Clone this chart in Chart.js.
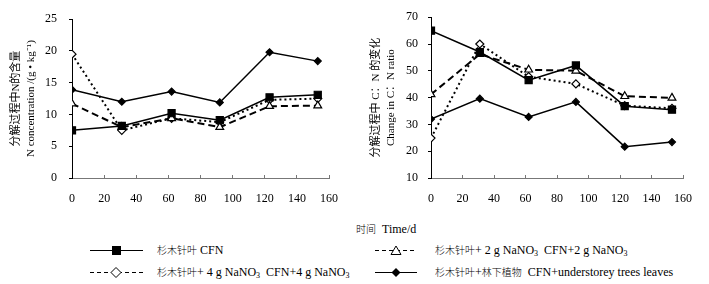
<!DOCTYPE html>
<html>
<head>
<meta charset="utf-8">
<script src="https://cdn.jsdelivr.net/npm/chart.js@4"></script>
<style>
  body { margin: 0; background: #fff; width: 709px; height: 284px; position: relative; overflow: hidden;
         font-family: 'Liberation Serif', 'Noto Sans CJK SC', serif; color: #000; }
  canvas { position: absolute; top: 0; }
  #c1 { left: 0; }
  #c2 { left: 355px; }
  .xlabel { position: absolute; left: 356px; top: 221px; font-size: 12px; white-space: pre; }
  .leg { position: absolute; display: flex; align-items: center; font-size: 12px; white-space: pre; height: 14px; }
  .leg svg { margin-right: 14px; }
  .cjk { font-family: 'Noto Sans CJK SC', sans-serif; font-size: 10px; font-weight: 300; }
  sub { font-size: 8px; vertical-align: -2px; line-height: 0; }
</style>
</head>
<body>
<canvas id="c1" width="355" height="215"></canvas>
<canvas id="c2" width="354" height="215"></canvas>
<div class="xlabel"><span class="cjk">时间</span>  Time/d</div>
<div id="legend"></div>

<script>
// ═══════════════════════════════════════
//  DONNÉES
// ═══════════════════════════════════════

const days = [0, 31, 62, 92, 123, 153];

// N concentration (g/kg)
const nCFN   = [7.5, 8.2, 10.2, 9.1, 12.7, 13.1];
const nNa2   = [11.7, 8.0, 9.4, 8.0, 11.3, 11.4];
const nNa4   = [19.5, 7.5, 9.4, 8.8, 12.3, 12.5];
const nUnder = [13.9, 12.0, 13.6, 11.9, 19.8, 18.4];

// C:N ratio
const cnCFN   = [65.0, 57.0, 46.5, 52.0, 36.8, 35.5];
const cnNa2   = [41.2, 56.2, 50.4, 50.0, 40.5, 39.9];
const cnNa4   = [24.9, 60.0, 47.8, 45.1, 37.0, 36.0];
const cnUnder = [32.0, 39.6, 32.8, 38.4, 21.7, 23.4];

const xTicks = [0, 20, 40, 60, 80, 100, 120, 140, 160];

const seriesLabels = [
  '杉木针叶 CFN',
  '杉木针叶+ 2 g NaNO3  CFN+2 g NaNO3',
  '杉木针叶+ 4 g NaNO3  CFN+4 g NaNO3',
  '杉木针叶+林下植物  CFN+understorey trees leaves'
];

Chart.defaults.font.family = "'Liberation Serif', 'Noto Sans CJK SC', serif";
Chart.defaults.font.size = 12;
Chart.defaults.color = '#000';

// ═══════════════════════════════════════
//  STYLES DES SÉRIES
// ═══════════════════════════════════════

const styles = [
  { borderWidth: 1.5, borderDash: [], pointStyle: 'rect', pointRadius: 5, pointBackgroundColor: '#000' },
  { borderWidth: 2, borderDash: [7, 4], pointStyle: 'triangle', pointRadius: 4.5, pointBackgroundColor: '#fff' },
  { borderWidth: 2, borderDash: [2, 3], pointStyle: 'rectRot', pointRadius: 4, pointBackgroundColor: '#fff' },
  { borderWidth: 1.5, borderDash: [], pointStyle: 'rectRot', pointRadius: 3.5, pointBackgroundColor: '#000' }
];

function buildDatasets(list) {
  return list.map((vals, i) => ({
    label: seriesLabels[i],
    data: days.map((d, k) => ({ x: d, y: vals[k] })),
    borderColor: '#000',
    pointBorderColor: '#000',
    pointBorderWidth: 1.2,
    tension: 0,
    ...styles[i]
  }));
}

// ═══════════════════════════════════════
//  GRAPHE
// ═══════════════════════════════════════

function makeChart(id, datasets, yMin, yMax, yStep, yTitle, opts) {
  const ctx = document.getElementById(id).getContext('2d');
  return new Chart(ctx, {
    type: 'line',
    data: { datasets },
    options: {
      responsive: false,
      animation: false,
      layout: { padding: { top: 16, right: opts.padRight, left: 0, bottom: 0 } },
      plugins: { legend: { display: false }, tooltip: { enabled: false } },
      scales: {
        x: {
          type: 'linear',
          min: 0, max: 160,
          afterBuildTicks: s => { s.ticks = xTicks.map(v => ({ value: v })); },
          afterFit: s => { s.height = 37; },
          ticks: { padding: 17, maxRotation: 0 },
          grid: { drawOnChartArea: false, tickLength: -3, color: '#777' },
          border: { color: '#777', width: 1 }
        },
        y: {
          min: yMin, max: yMax,
          afterFit: s => { s.width = opts.yWidth; },
          ticks: { stepSize: yStep, padding: opts.tickPad },
          grid: { drawOnChartArea: false, tickLength: 3, color: '#000' },
          border: { color: '#000', width: 1 },
          title: {
            display: true,
            text: yTitle,
            font: { size: 11, lineHeight: 15 / 11 },
            padding: { top: opts.titlePad, bottom: 0 }
          }
        }
      }
    }
  });
}

makeChart('c1', buildDatasets([nCFN, nNa2, nNa4, nUnder]), 0, 25, 5,
  ['分解过程中N的含量', 'N concentration /(g • kg⁻¹)'],
  { padRight: 20, yWidth: 72, tickPad: 12, titlePad: 8.5 });

makeChart('c2', buildDatasets([cnCFN, cnNa2, cnNa4, cnUnder]), 10, 70, 10,
  ['分解过程中 C：N 的变化', 'Change in C：N ratio'],
  { padRight: 14, yWidth: 76, tickPad: 10, titlePad: 13.5 });

// ═══════════════════════════════════════
//  LÉGENDE
// ═══════════════════════════════════════

function markerSvg(i) {
  const st = styles[i];
  const dash = st.borderDash.length ? 'stroke-dasharray="4,3"' : '';
  let mark = '';
  if (i === 0) mark = '<rect x="22" y="3" width="9" height="9" fill="#000"/>';
  if (i === 1) mark = '<path d="M16,11.5 L21,3 L26,11.5 Z" fill="#fff" stroke="#000" stroke-width="1"/>';
  if (i === 2) mark = '<path d="M26,2.5 L31,7.5 L26,12.5 L21,7.5 Z" fill="#fff" stroke="#000" stroke-width="1"/>';
  if (i === 3) mark = '<path d="M21,3 L25.5,7.5 L21,12 L16.5,7.5 Z" fill="#000"/>';
  const w = (i === 1 || i === 3) ? 42 : 53;
  return `<svg width="${w}" height="15" viewBox="0 0 ${w} 15">
    <line x1="0" y1="7.5" x2="${w}" y2="7.5" stroke="#000" stroke-width="1.2" ${dash}/>${mark}</svg>`;
}

const legendPos = [
  { left: 90, top: 243 },
  { left: 375, top: 243 },
  { left: 90, top: 265 },
  { left: 375, top: 265 }
];

const legend = document.getElementById('legend');
seriesLabels.forEach((lab, i) => {
  const div = document.createElement('div');
  div.className = 'leg';
  div.style.left = legendPos[i].left + 'px';
  div.style.top = legendPos[i].top + 'px';
  const html = lab
    .replace(/([\u4e00-\u9fff]+)/g, '<span class="cjk">$1</span>')
    .replace(/NaNO3/g, 'NaNO<sub>3</sub>');
  div.innerHTML = markerSvg(i) + `<span>${html}</span>`;
  if (i === 1 || i === 3) div.querySelector('svg').style.marginRight = '18px';
  legend.appendChild(div);
});
</script>
</body>
</html>
